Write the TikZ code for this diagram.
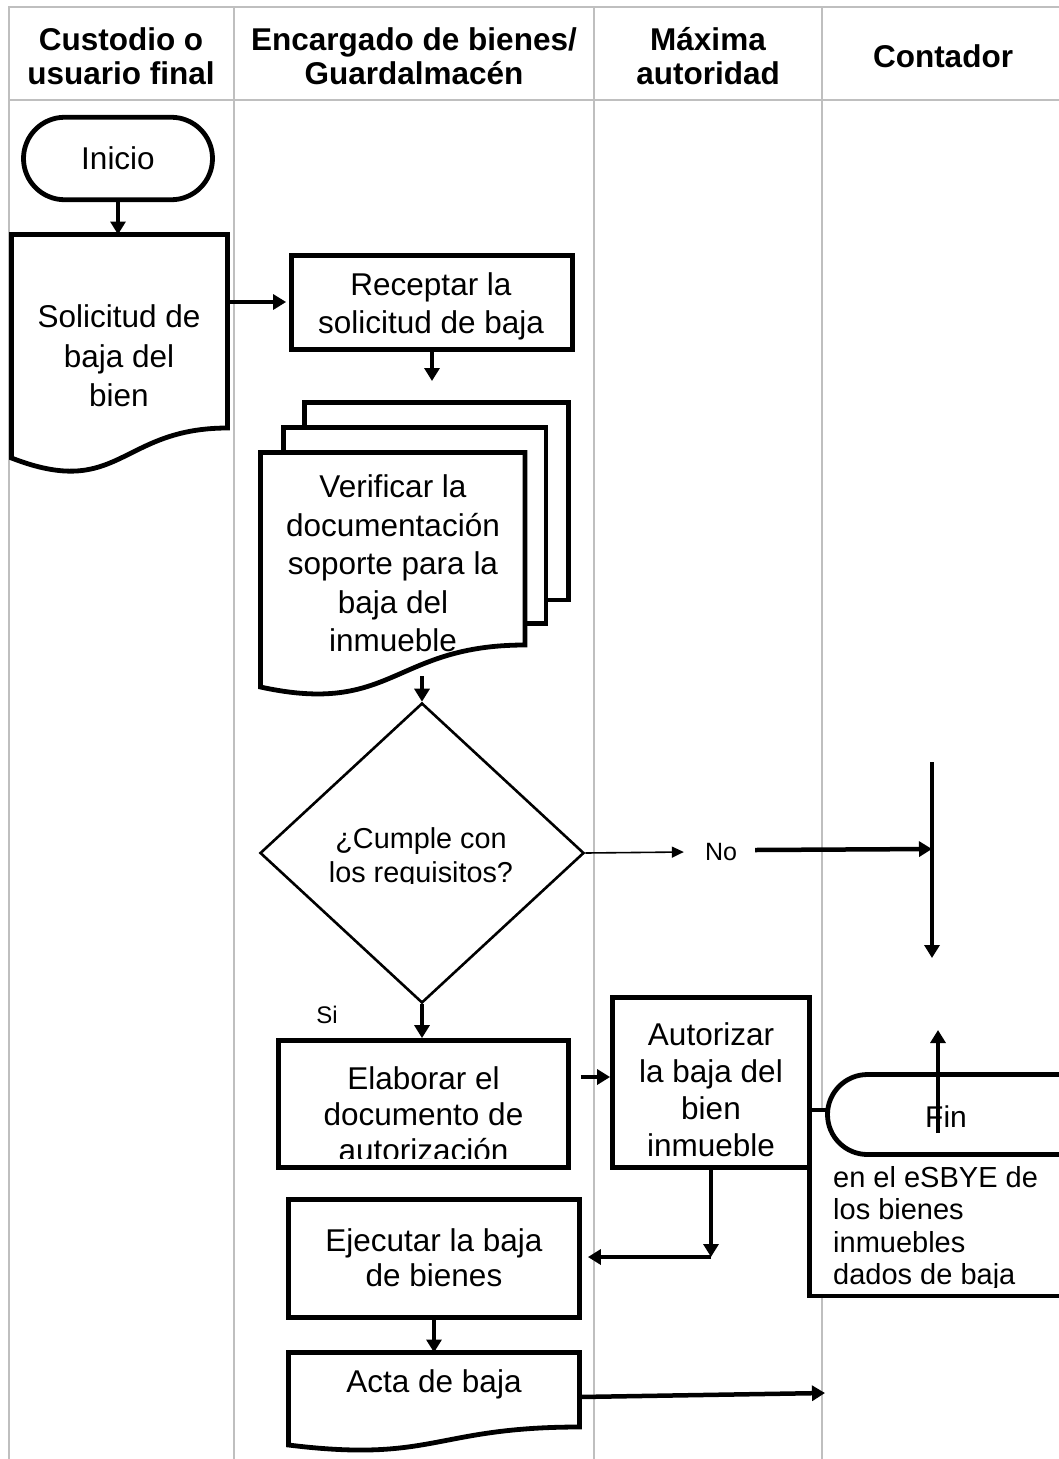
\documentclass[tikz,border=0pt]{standalone}
\usepackage{fontspec}
\setmainfont{Liberation Sans}
\usetikzlibrary{arrows.meta,shapes.geometric,shapes.misc,calc}
\definecolor{laneline}{HTML}{BFBFBF}
\begin{document}
\begin{tikzpicture}[x=1pt,y=-1pt,
  lane/.style={draw=laneline,line width=1.6pt},
  hdr/.style={font=\fontsize{31.5}{33.5}\selectfont\bfseries,align=center,inner sep=0pt},
  body/.style={font=\fontsize{31.5}{38}\selectfont,align=center,inner sep=0pt},
  shapebox/.style={draw,line width=4.8pt,fill=white,inner sep=0pt,rectangle},
  docline/.style={draw,line width=4.8pt,fill=white},
  term/.style={draw,line width=4.8pt,fill=white,rounded rectangle,inner sep=0pt},
  flow/.style={line width=4.5pt,-{Triangle[length=13pt,width=15pt]}},
  fine/.style={line width=1.6pt,-{Triangle[length=12pt,width=11pt]}},
]
\useasboundingbox (0,0) rectangle (1059,1459);
\clip (0,0) rectangle (1059,1459);

% swimlane grid
\draw[lane] (9,1459) -- (9,7) -- (1059,7);
\draw[lane] (9,100) -- (1059,100);
\draw[lane] (234,7) -- (234,1459);
\draw[lane] (594,7) -- (594,1459);
\draw[lane] (822,7) -- (822,1459);

% lane headers
\node[hdr] (h1) at (121,56) {Custodio o\\usuario final};
\node[hdr] (h2) at (414,56) {Encargado de bienes/\\Guardalmacén};
\node[hdr] (h3) at (708,56) {Máxima\\autoridad};
\node[hdr] (h4) at (943,56) {Contador};

% start
\node[term,minimum width=189pt,minimum height=82.5pt,font=\fontsize{31.5}{38}\selectfont] (ini) at (118,158.5) {Inicio};

% request document
\draw[docline] (11.5,234.5) -- (227.5,234.5) -- (227.5,428)
  .. controls (119.5,428) and (119.5,500) .. (11.5,458) -- cycle;
\coordinate (solTop) at (118,234.5);
\coordinate (solRight) at (227.5,302);
\node[body,font=\fontsize{31.5}{39.5}\selectfont] (solT) at (119,356.2) {Solicitud de\\baja del\\bien};
\draw[flow] (ini.south) -- (solTop);

% receive request
\node[shapebox,minimum width=281pt,minimum height=94pt] (rec) at (432,302.5) {};
\node[body] (recT) at (431,306) {Receptar la\\solicitud de baja};
\draw[flow,shorten >=3pt] (solRight) -- (rec.west |- solRight);
\coordinate (recOut) at (432,381);
\draw[flow] (rec.south) -- (recOut);

% verification documents
\draw[docline] (304.5,402.5) rectangle (568.5,600);
\draw[docline] (283.5,427.5) rectangle (546,623.5);
\draw[docline] (260.5,452.5) -- (525,452.5) -- (525,645)
  .. controls (393,645) and (393,716) .. (260.5,687) -- cycle;
\node[body,font=\fontsize{31.5}{38.5}\selectfont] (verT) at (393,563.7) {Verificar la\\documentación\\soporte para la\\baja del\\inmueble};
\coordinate (verOut) at (422,676);

% decision
\node[diamond,draw,line width=2.6pt,fill=white,minimum width=324pt,minimum height=300pt,inner sep=0pt] (dia) at (422,853) {};
\draw[flow] (verOut) -- (dia.north);
\begin{scope}
  \clip (300,800) rectangle (545,883);
  \node[font=\fontsize{28.8}{34}\selectfont,align=center,inner sep=0pt] (diaT) at (421,857.7) {¿Cumple con\\los requisitos?};
\end{scope}

% "No" branch
\node[font=\fontsize{25}{30}\selectfont,inner sep=0pt] (noT) at (721,852) {No};
\draw[fine] (dia.east) -- ($(noT.west)+(-21,0)$);
\coordinate (vTop) at (932,762);
\coordinate (vMid) at (932,849);
\coordinate (vBot) at (932,958);
\draw[flow] ($(noT.east)+(18,-2)$) -- (vMid);
\draw[flow] (vTop) -- (vBot);

% "Si" branch
\node[font=\fontsize{24}{28}\selectfont,inner sep=0pt] (siT) at (327,1015) {Si};
\node[shapebox,minimum width=290pt,minimum height=127pt] (ela) at (423.5,1104) {};
\draw[flow] (dia.south) -- (dia.south |- ela.north);
\begin{scope}
  \clip (281,1043) rectangle (566,1158);
  \node[body,font=\fontsize{31.5}{36}\selectfont] (elaT) at (423.5,1114.7) {Elaborar el\\documento de\\autorización};
\end{scope}

% authorisation
\node[shapebox,minimum width=197pt,minimum height=170pt] (aut) at (711,1082.5) {};
\node[body,font=\fontsize{31.5}{37}\selectfont] (autT) at (711,1090.2) {Autorizar\\la baja del\\bien\\inmueble};
\coordinate (elaOut) at ($(ela.east)+(10,-27)$);
\draw[flow] (elaOut) -- (aut.west |- elaOut);

% accountant record
\node[shapebox,minimum width=270.5pt,minimum height=186pt] (conBox) at (944.75,1203) {};
\begin{scope}
  \clip (812,1158) rectangle (1059,1287);
  \node[font=\fontsize{29}{32.5}\selectfont,align=left,inner sep=0pt,anchor=west] (conT) at (833,1228.3) {en el eSBYE de\\los bienes\\inmuebles\\dados de baja};
\end{scope}

% end
\node[term,minimum width=282.5pt,minimum height=80pt] (fin) at (968.75,1114.5) {};
\node[font=\fontsize{30}{36}\selectfont,inner sep=0pt] (finT) at (946,1116.3) {Fin};
\coordinate (upBot) at (938,1133);
\coordinate (upTop) at (938,1030);
\draw[flow,line width=4pt] (upBot) -- (upTop);

% execute write-off
\node[shapebox,minimum width=291pt,minimum height=118pt] (eje) at (434,1258.5) {};
\node[body,font=\fontsize{31.5}{35}\selectfont] (ejeT) at (434,1258.2) {Ejecutar la baja\\de bienes};
\coordinate (autCorner) at (711,1257);
\draw[flow] (aut.south) -- (autCorner);
\draw[flow] (autCorner) -- ($(eje.east |- autCorner)+(6,0)$);

% write-off record
\coordinate (actaTop) at (434,1352.5);
\draw[flow] (eje.south) -- (actaTop);
\draw[docline] (288.5,1352.5) -- (579.5,1352.5) -- (579.5,1427)
  .. controls (434,1427) and (434,1463) .. (288.5,1445) -- cycle;
\node[body] (actaT) at (434,1384) {Acta de baja};
\coordinate (actaOut) at (579.5,1397);
\coordinate (contIn) at (825,1393);
\draw[flow] (actaOut) -- (contIn);
\end{tikzpicture}
\end{document}
